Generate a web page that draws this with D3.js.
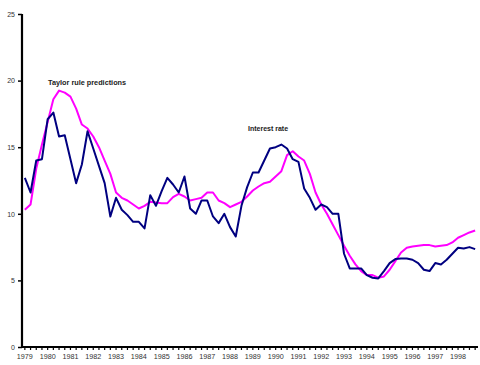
<!DOCTYPE html>
<html>
<head>
<meta charset="utf-8">
<script src="https://cdn.jsdelivr.net/npm/d3@7"></script>
<style>
  html, body { margin: 0; padding: 0; background: #fff; }
  svg { display: block; }
  text { font-family: "Liberation Sans", Arial, sans-serif; }
</style>
</head>
<body>
<svg id="chart" width="480" height="365"></svg>
<script>
// Quarterly observations, 1979 Q1 – 1998 Q4
const years = d3.range(1979, 1999);
const quarters = years.flatMap(yr => [1, 2, 3, 4].map(q => yr + "Q" + q));

// Actual interest rate (%)
const interestRate = [
  12.7, 11.6, 14.0, 14.1, 17.1, 17.6, 15.8, 15.9, 14.1, 12.3,
  13.7, 16.2, 14.9, 13.6, 12.3, 9.8, 11.2, 10.3, 9.9, 9.4,
  9.4, 8.9, 11.4, 10.6, 11.7, 12.7, 12.2, 11.6, 12.8, 10.4,
  10.0, 11.0, 11.0, 9.8, 9.3, 10.0, 9.0, 8.3, 10.6, 12.0,
  13.1, 13.1, 14.0, 14.9, 15.0, 15.2, 14.9, 14.1, 13.9, 11.9,
  11.2, 10.3, 10.7, 10.5, 10.0, 10.0, 7.0, 5.9, 5.9, 5.9,
  5.4, 5.2, 5.15, 5.7, 6.3, 6.6, 6.65, 6.65, 6.55, 6.3,
  5.8, 5.7, 6.3, 6.2, 6.55, 7.0, 7.45, 7.4, 7.5, 7.35
];

// Rate implied by the Taylor rule (%)
const taylorRule = [
  10.3, 10.7, 13.4, 15.2, 16.9, 18.6, 19.25, 19.1, 18.8, 17.9,
  16.7, 16.4, 15.8, 15.0, 14.0, 13.0, 11.6, 11.2, 11.0, 10.7,
  10.4, 10.6, 10.9, 10.85, 10.8, 10.8, 11.25, 11.5, 11.3, 11.0,
  11.1, 11.2, 11.6, 11.6, 11.0, 10.8, 10.5, 10.7, 10.9, 11.3,
  11.75, 12.05, 12.3, 12.4, 12.8, 13.2, 14.4, 14.7, 14.3, 14.0,
  13.0, 11.6, 10.7, 10.0, 9.2, 8.4, 7.6, 6.85, 6.2, 5.7,
  5.4, 5.4, 5.2, 5.3, 5.8, 6.45, 7.1, 7.45, 7.55, 7.6,
  7.65, 7.65, 7.55, 7.6, 7.65, 7.85, 8.2, 8.4, 8.6, 8.75
];

const yTicks = [0, 5, 10, 15, 20, 25];

const svg = d3.select("#chart");
const plotLeft = 22, plotRight = 478, plotTop = 14, plotBottom = 347;

const x = d3.scaleBand().domain(quarters).range([plotLeft, plotRight]).padding(0);
const y = d3.scaleLinear().domain([0, 25]).range([plotBottom, plotTop]);
const cx = q => x(q) + x.bandwidth() / 2;

// Y axis
const yAxis = svg.append("g")
  .attr("transform", `translate(${plotLeft},0)`)
  .call(d3.axisLeft(y).tickValues(yTicks).tickSize(4).tickPadding(3).tickFormat(d3.format("d")));
yAxis.select(".domain").attr("stroke", "#000").attr("stroke-width", 2.2).attr("d", `M0,${plotBottom}V${plotTop}`);
yAxis.selectAll(".tick line").attr("stroke", "#000").attr("stroke-width", 1.5);
yAxis.selectAll(".tick text").attr("font-size", 7).attr("fill", "#333");

// X axis: a tick per quarter, a label at each year's first quarter
const xAxis = svg.append("g")
  .attr("transform", `translate(0,${plotBottom})`)
  .call(d3.axisBottom(x).tickSize(3).tickPadding(4)
    .tickFormat(q => q.endsWith("Q1") ? q.slice(0, 4) : ""));
xAxis.select(".domain").attr("stroke", "#000").attr("stroke-width", 2.2).attr("d", `M${plotLeft},0H${plotRight}`);
xAxis.selectAll(".tick line").attr("stroke", "#000").attr("stroke-width", 1.2);
xAxis.selectAll(".tick text").attr("font-size", 7.2).attr("fill", "#333");

const line = d3.line().x((d, i) => cx(quarters[i])).y(d => y(d));

svg.append("path")
  .datum(taylorRule)
  .attr("fill", "none")
  .attr("stroke", "#ff00ff")
  .attr("stroke-width", 2)
  .attr("stroke-linejoin", "round")
  .attr("d", line);

svg.append("path")
  .datum(interestRate)
  .attr("fill", "none")
  .attr("stroke", "#000080")
  .attr("stroke-width", 2)
  .attr("stroke-linejoin", "round")
  .attr("d", line);

// Series labels
svg.append("text")
  .attr("x", 48).attr("y", 85)
  .attr("font-size", 7.3).attr("font-weight", "bold").attr("fill", "#222")
  .text("Taylor rule predictions");

svg.append("text")
  .attr("x", 248).attr("y", 131)
  .attr("font-size", 7).attr("font-weight", "bold").attr("fill", "#222")
  .text("Interest rate");
</script>
</body>
</html>
